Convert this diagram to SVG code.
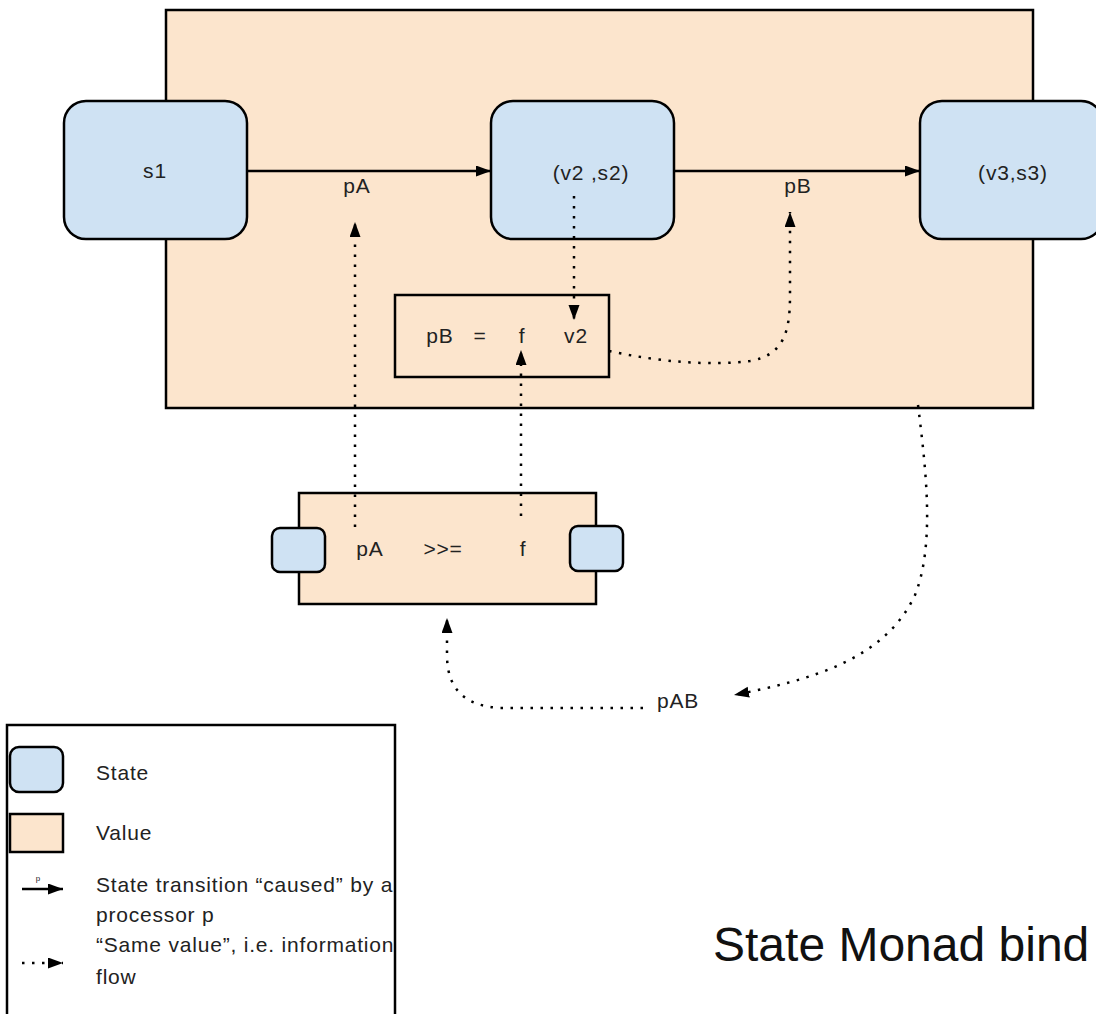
<svg xmlns="http://www.w3.org/2000/svg" width="1096" height="1014" viewBox="0 0 1096 1014">
<defs>
<marker id="ah" markerUnits="userSpaceOnUse" markerWidth="16" markerHeight="12" refX="15" refY="5.5" orient="auto">
<path d="M0,0 L15,5.5 L0,11 Z" fill="#000"/>
</marker>
<style>
.value{fill:#fce5cd;stroke:#000;stroke-width:2.5}
.state{fill:#cfe2f3;stroke:#000;stroke-width:2.5}
.lbl{font-family:"Liberation Sans",Arial,sans-serif;font-size:21px;letter-spacing:0.8px;fill:#222}
.c{text-anchor:middle}
.solid{fill:none;stroke:#000;stroke-width:2.5}
.dot{fill:none;stroke:#000;stroke-width:2.5;stroke-dasharray:2.5 7.5}
</style>
</defs>
<rect width="1096" height="1014" fill="#fff"/>

<g id="outer-value">
<rect class="value" x="166" y="10" width="867" height="398"/>
</g>
<g id="s1">
<rect class="state" x="64" y="101" width="183" height="138" rx="22"/>
<text class="lbl c" x="155" y="178">s1</text>
</g>
<g id="v2s2">
<rect class="state" x="491" y="101" width="183" height="138" rx="22"/>
<text class="lbl c" x="591" y="180">(v2 ,s2)</text>
</g>
<g id="v3s3">
<rect class="state" x="920" y="101" width="183" height="138" rx="22"/>
<text class="lbl c" x="1013" y="180">(v3,s3)</text>
</g>
<g id="pB-def">
<rect class="value" x="395" y="295" width="214" height="82"/>
<text class="lbl c" x="440" y="343">pB</text>
<text class="lbl c" x="480" y="343">=</text>
<text class="lbl c" x="522" y="343">f</text>
<text class="lbl c" x="576" y="343">v2</text>
</g>
<g id="bind">
<rect class="value" x="299" y="493" width="297" height="111"/>
<rect class="state" x="272" y="528" width="53" height="44" rx="8"/>
<rect class="state" x="570" y="526" width="53" height="45" rx="8"/>
<text class="lbl c" x="370" y="556">pA</text>
<text class="lbl c" x="443" y="556">&gt;&gt;=</text>
<text class="lbl c" x="523" y="556">f</text>
</g>
<g id="pAB">
<text class="lbl" x="657" y="708">pAB</text>
</g>

<g id="connectors">
<path class="solid" d="M247,171 L491,171" marker-end="url(#ah)"/>
<path class="solid" d="M674,171 L920,171" marker-end="url(#ah)"/>
<text class="lbl c" x="357" y="193">pA</text>
<text class="lbl c" x="798" y="193">pB</text>
<path class="dot" d="M574,196 L574,320" marker-end="url(#ah)"/>
<path class="dot" d="M609,351 C660,362 710,366 750,361 C785,355 790,330 790,295 L790,212" marker-end="url(#ah)"/>
<path class="dot" d="M355,527 L355,222" marker-end="url(#ah)"/>
<path class="dot" d="M521,516 L521,350" marker-end="url(#ah)"/>
<path class="dot" d="M918,405 C926,470 935,545 915,595 C885,660 810,680 734,695" marker-end="url(#ah)"/>
<path class="dot" d="M643,708 L500,708 C468,706 447,692 447,655 L447,618" marker-end="url(#ah)"/>
</g>

<g id="legend">
<rect x="7" y="725" width="388" height="300" fill="#fff" stroke="#000" stroke-width="2.5"/>
<rect class="state" x="10" y="747" width="53" height="45" rx="9"/>
<text class="lbl" x="96" y="780">State</text>
<rect class="value" x="10" y="814" width="53" height="38"/>
<text class="lbl" x="96" y="840">Value</text>
<path class="solid" d="M22,889 L63,889" marker-end="url(#ah)"/>
<text x="38" y="881" font-family="Liberation Sans,Arial,sans-serif" font-size="8" fill="#222" text-anchor="middle">p</text>
<text class="lbl" x="96" y="892">State transition “caused” by a</text>
<text class="lbl" x="96" y="922">processor p</text>
<path class="dot" d="M22,963 L63,963" marker-end="url(#ah)"/>
<text class="lbl" x="96" y="952">“Same value”, i.e. information</text>
<text class="lbl" x="96" y="984">flow</text>
</g>

<g id="title">
<text x="713" y="961" font-family="Liberation Sans,Arial,sans-serif" font-size="48" fill="#111">State Monad bind</text>
</g>
</svg>
